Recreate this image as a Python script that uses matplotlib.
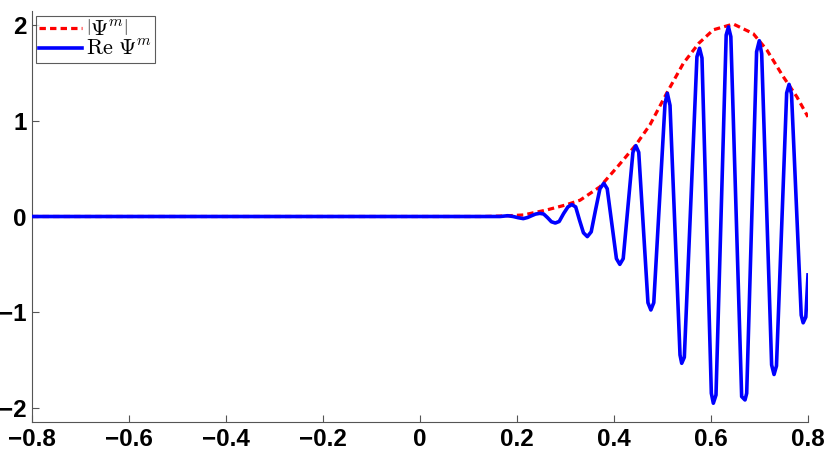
import matplotlib
matplotlib.use("Agg")
import matplotlib.pyplot as plt

# |Psi^m| envelope
env_x = [-0.8, 0.0, 0.13, 0.17, 0.213, 0.261, 0.30, 0.330, 0.371, 0.409, 0.445, 0.474,
         0.510, 0.543, 0.575, 0.605, 0.646, 0.687, 0.715, 0.749, 0.777, 0.800]
env_y = [0.0, 0.0, 0.0, 0.005, 0.016, 0.068, 0.12, 0.17, 0.31, 0.53, 0.747, 0.956,
         1.30, 1.60, 1.81, 1.95, 2.01, 1.91, 1.74, 1.46, 1.25, 1.04]

# Re Psi^m
re_x = [-0.8, 0.0, 0.165, 0.181, 0.192, 0.202, 0.213, 0.222, 0.230, 0.238, 0.247,
        0.255, 0.263, 0.271, 0.279, 0.287, 0.296, 0.305, 0.313, 0.321, 0.329,
        0.337, 0.345, 0.353, 0.362, 0.371, 0.379, 0.386,
        0.405, 0.412, 0.419, 0.439, 0.445, 0.451, 0.470, 0.476, 0.482,
        0.5052, 0.510, 0.5155, 0.5361, 0.5396, 0.545, 0.571, 0.5764, 0.5814,
        0.6007, 0.6048, 0.6103, 0.6313, 0.636, 0.6409, 0.6632, 0.6701, 0.6736,
        0.694, 0.6996, 0.7045, 0.725, 0.730, 0.735, 0.756, 0.761, 0.766,
        0.786, 0.790, 0.7955, 0.800]
re_y = [0.0, 0.0, 0.0, 0.008, 0.0, -0.012, -0.022, -0.010, 0.008, 0.025, 0.033,
        0.026, -0.012, -0.055, -0.068, -0.052, 0.03, 0.10, 0.125, 0.10, -0.04,
        -0.17, -0.21, -0.16, 0.07, 0.29, 0.347, 0.29,
        -0.44, -0.50, -0.44, 0.67, 0.74, 0.67, -0.90, -0.976, -0.90,
        1.18, 1.287, 1.16, -1.446, -1.533, -1.47, 1.669, 1.757, 1.655,
        -1.846, -1.95, -1.864, 1.895, 1.98, 1.878, -1.88, -1.916, -1.846,
        1.72, 1.836, 1.70, -1.55, -1.65, -1.56, 1.29, 1.38, 1.28,
        -1.03, -1.11, -1.05, -0.61]

xticks = [-0.8, -0.6, -0.4, -0.2, 0, 0.2, 0.4, 0.6, 0.8]
xticklabels = ["\u22120.8", "\u22120.6", "\u22120.4", "\u22120.2", "0", "0.2", "0.4", "0.6", "0.8"]
yticks = [-2, -1, 0, 1, 2]
yticklabels = ["\u22122", "\u22121", "0", "1", "2"]

plt.rcParams["mathtext.fontset"] = "cm"

fig = plt.figure(figsize=(8.30, 4.51), dpi=100)
W, H = 830, 451
ax = fig.add_axes([32 / W, 1 - 422 / H, (808 - 32) / W, (422 - 11) / H])

ax.plot(env_x, env_y, color="#FF0000", lw=2.3, linestyle=(0, (2.0, 1.3)),
        label=r"$\left|\Psi^m\right|$", zorder=2)
ax.plot(re_x, re_y, color="#0000FF", lw=2.6, label=r"$\mathrm{Re}\ \Psi^m$",
        zorder=3, solid_joinstyle="round")

ax.set_xlim(-0.8, 0.8)
ax.set_ylim(-2.146, 2.146)
ax.set_xticks(xticks)
ax.set_xticklabels(xticklabels)
ax.set_yticks(yticks)
ax.set_yticklabels(yticklabels)

for s in ["top", "right"]:
    ax.spines[s].set_visible(False)
for s in ["left", "bottom"]:
    ax.spines[s].set_color("#555555")
    ax.spines[s].set_linewidth(0.8)

ax.tick_params(direction="in", length=5, width=0.8, color="#555555",
               labelsize=17.5, pad=4)
for lab in ax.get_xticklabels() + ax.get_yticklabels():
    lab.set_fontfamily("Liberation Sans")
    lab.set_fontweight("bold")

leg = ax.legend(loc="upper left", bbox_to_anchor=(36 / W, 1 - 16 / H),
                bbox_transform=fig.transFigure, borderaxespad=0,
                fontsize=16, frameon=True, fancybox=False, handlelength=1.9,
                handletextpad=0.2, borderpad=0.15, labelspacing=0.0)
leg.get_frame().set_edgecolor("#333333")
leg.get_frame().set_linewidth(0.8)

fig.savefig("out.png", dpi=100)
